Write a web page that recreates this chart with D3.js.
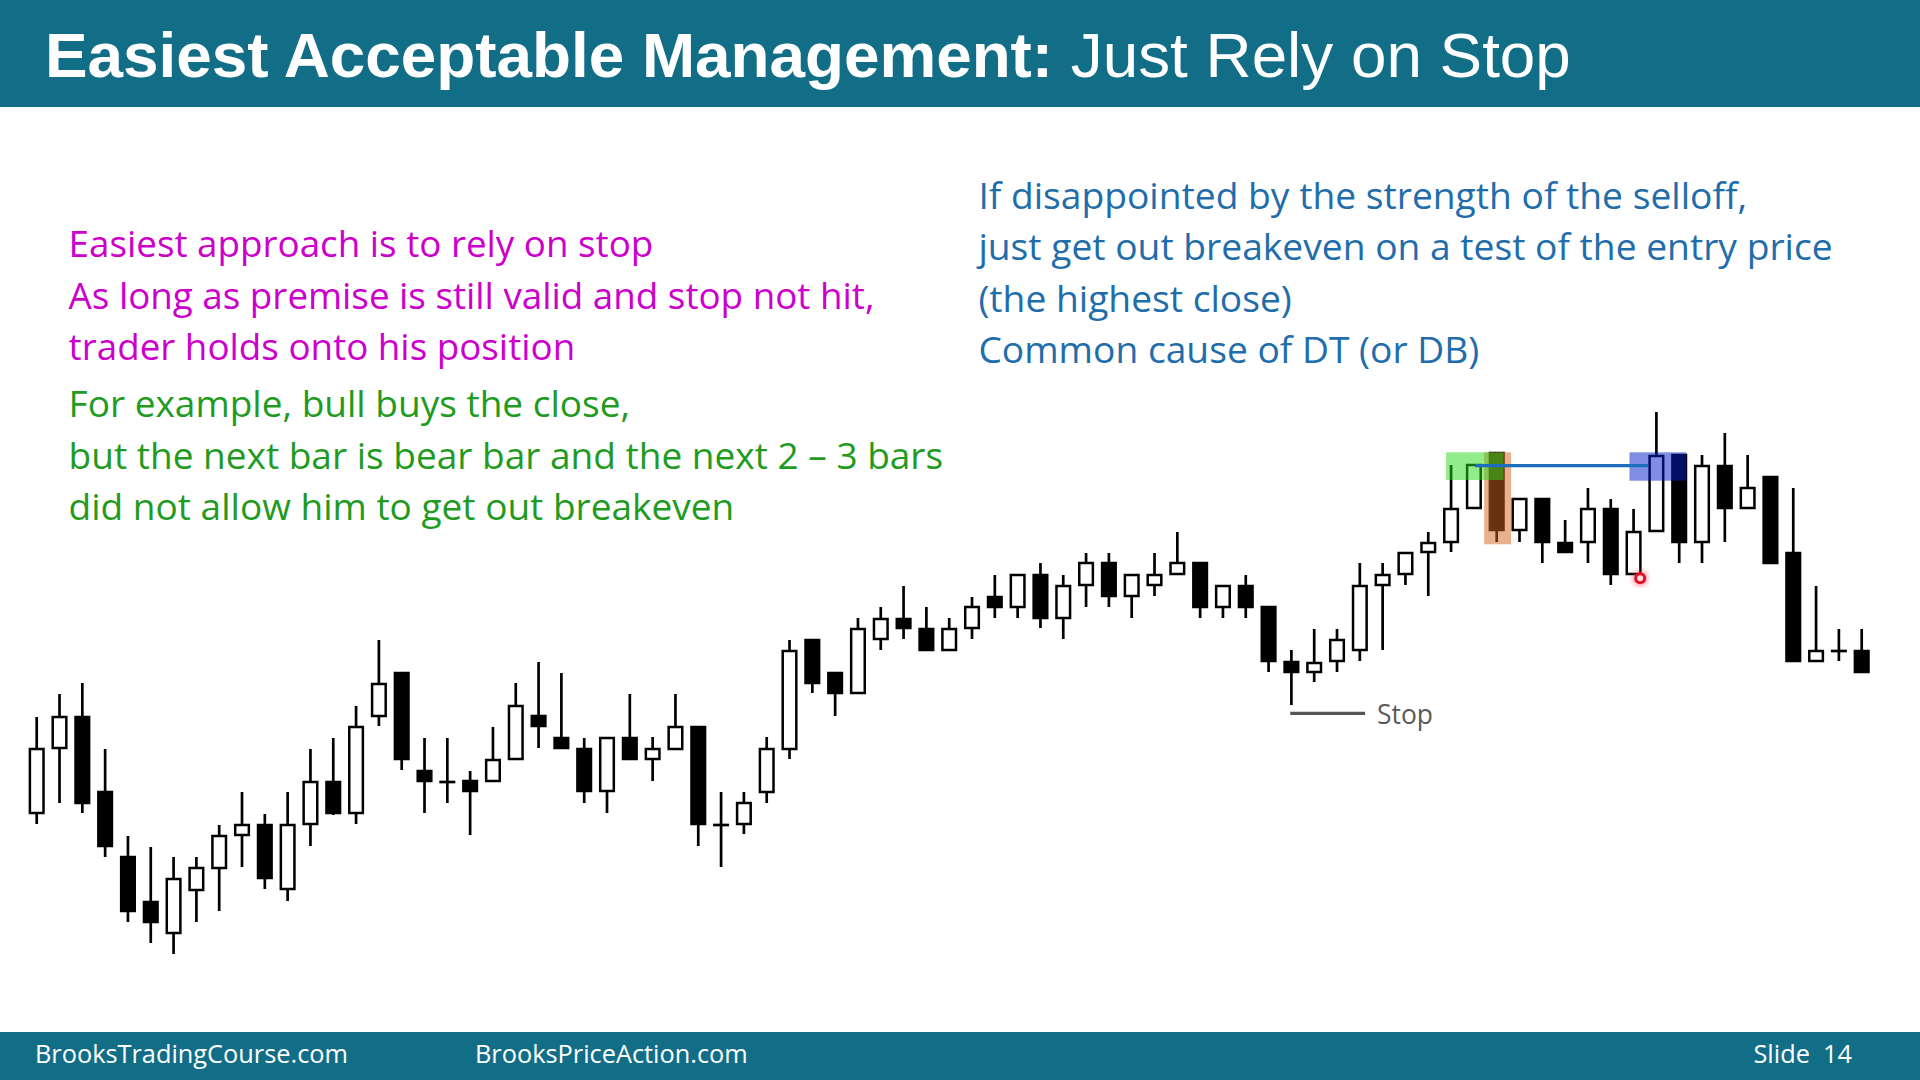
<!DOCTYPE html>
<html>
<head>
<meta charset="utf-8">
<script src="https://cdn.jsdelivr.net/npm/d3@7"></script>
<style>
  html, body { margin: 0; padding: 0; background: #ffffff; overflow: hidden; }
  svg { display: block; }
</style>
</head>
<body>
<svg id="chart" width="1920" height="1080"></svg>
<script>
// ---------------- DATA ----------------
const titleBold = "Easiest Acceptable Management:";
const titleRegular = " Just Rely on Stop";
const magentaLines = [
  "Easiest approach is to rely on stop",
  "As long as premise is still valid and stop not hit,",
  "trader holds onto his position"
];
const greenLines = [
  "For example, bull buys the close,",
  "but the next bar is bear bar and the next 2 \u2013 3 bars",
  "did not allow him to get out breakeven"
];
const blueLines = [
  "If disappointed by the strength of the selloff,",
  "just get out breakeven on a test of the entry price",
  "(the highest close)",
  "Common cause of DT (or DB)"
];
const footerLeft = "BrooksTradingCourse.com";
const footerMid = "BrooksPriceAction.com";
const footerRight = "Slide  14";
const stopLabel = "Stop";

// bar index 1..81 (price units)
const opens  = [187,252,283,208,143,98,67,110,132,165,175,111,176,218,187,284,327,229,218,219,219,241,284,262,251,209,262,241,251,273,175,176,208,251,360,327,307,361,381,371,350,372,403,393,425,382,415,437,404,415,426,437,393,414,393,338,328,339,350,415,426,448,458,492,547,470,501,457,458,491,426,469,545,458,534,492,523,447,339,349,349];
const highs  = [283,306,317,251,164,153,143,143,175,208,186,208,251,262,294,360,327,262,262,229,273,317,338,327,262,262,306,263,306,273,208,208,263,360,360,327,382,393,414,393,382,403,425,425,437,425,447,447,425,447,468,437,414,425,393,350,371,371,437,437,447,468,535,535,547,501,501,480,512,501,491,588,545,545,567,545,523,512,414,371,371];
const lows   = [176,197,187,143,78,57,46,78,89,133,111,99,154,185,176,274,230,187,197,165,219,241,252,252,197,187,241,219,251,154,133,166,197,241,307,284,307,350,361,350,350,361,382,382,372,361,393,393,382,404,426,382,382,382,328,295,318,328,339,350,415,404,448,492,458,458,437,448,437,415,426,469,437,437,458,492,437,339,339,339,328];
const closes = [251,283,197,154,89,78,121,132,164,175,122,175,218,187,273,316,241,219,218,209,240,294,274,252,209,262,241,251,273,176,175,197,251,349,317,307,371,381,372,350,371,393,393,425,382,414,437,404,425,425,437,393,414,393,339,328,337,360,414,425,447,457,491,535,470,501,458,448,491,426,468,544,458,534,492,512,437,339,349,349,328];

// annotations (bar-index and price units)
const greenZone  = [61.78, 64.30, 520, 547.7];
const orangeZone = [63.45, 64.63, 455.7, 547.7];
const blueZone   = [69.82, 72.31, 519.3, 547.7];
const entryLine  = [63.05, 70.64, 534.3];
const stopLine   = [54.95, 58.23, 286.7];
const redDot     = [70.29, 421.7];

// ---------------- DRAW ----------------
const svg = d3.select("#chart");
const W = 1920, H = 1080;
const teal = "#126e87";

const x = d3.scaleLinear().domain([0, opens.length - 1]).range([36.7, 1861.7]);
const y = d3.scaleLinear().domain([0, 600]).range([1000, 400]);

svg.append("rect").attr("width", W).attr("height", H).attr("fill", "#ffffff");

// header
svg.append("rect").attr("x", 0).attr("y", 0).attr("width", W).attr("height", 107).attr("fill", teal);
const title = svg.append("text")
  .attr("x", 45).attr("y", 77)
  .attr("font-family", "'Liberation Sans', Arial, sans-serif")
  .attr("font-size", 64)
  .attr("fill", "#ffffff");
title.append("tspan").attr("font-weight", "bold").text(titleBold);
title.append("tspan").attr("font-weight", "normal").text(titleRegular);

// footer
svg.append("rect").attr("x", 0).attr("y", 1032).attr("width", W).attr("height", 48).attr("fill", teal);
const footFont = "'Open Sans', 'Noto Sans', sans-serif";
const f1 = svg.append("text").attr("x", 35).attr("y", 1063).attr("font-family", footFont)
  .attr("font-size", 23).attr("fill", "#ffffff").text(footerLeft);
const f2 = svg.append("text").attr("x", 475).attr("y", 1063).attr("font-family", footFont)
  .attr("font-size", 23).attr("fill", "#ffffff").text(footerMid);
const f3 = svg.append("text").attr("x", 1852).attr("y", 1063).attr("text-anchor", "end").attr("font-family", footFont)
  .attr("font-size", 23).attr("fill", "#ffffff").attr("xml:space", "preserve").style("white-space", "pre").text(footerRight);

// text blocks
const bodyFont = "'Open Sans', 'Noto Sans', sans-serif";
function block(lines, x0, y0, step, color) {
  const g = svg.append("g").attr("font-family", bodyFont).attr("font-size", 32).attr("fill", color);
  lines.forEach((t, i) => g.append("text").attr("x", x0).attr("y", y0 + i * step).text(t));
  return g;
}
function fitBlock(g, refIndex, target) {
  const node = g.selectAll("text").nodes()[refIndex];
  const w = node.getComputedTextLength();
  g.attr("font-size", 32 * target / w);
}
const gm = block(magentaLines, 68.6, 257, 51.5, "#cc00cc");
const gg = block(greenLines, 68.6, 417, 51.5, "#1f9b1f");
const gb = block(blueLines, 978.4, 209, 51.3, "#1f6dab");
fitBlock(gm, 0, 585);
fitBlock(gg, 1, 875);
fitBlock(gb, 0, 769);

// fit footer
(function(){
  const w = f1.node().getComputedTextLength();
  const fs = 23 * 313 / w;
  [f1, f2, f3].forEach(t => t.attr("font-size", fs));
})();
// fit title
(function(){
  const w = title.node().getComputedTextLength();
  title.attr("font-size", 64 * (1571 - 45) / w);
})();

// candles
const bars = d3.range(opens.length).map(i => ({
  i, o: opens[i], h: highs[i], l: lows[i], c: closes[i]
}));
const bw = 13.6;
const cg = svg.append("g");
cg.selectAll("line.wick").data(bars).join("line")
  .attr("class", "wick")
  .attr("x1", d => x(d.i)).attr("x2", d => x(d.i))
  .attr("y1", d => y(d.h)).attr("y2", d => y(d.l))
  .attr("stroke", "#000").attr("stroke-width", 2.7);
cg.selectAll("rect.body").data(bars.filter(d => d.o !== d.c)).join("rect")
  .attr("class", "body")
  .attr("x", d => x(d.i) - bw / 2)
  .attr("width", bw)
  .attr("y", d => y(Math.max(d.o, d.c)))
  .attr("height", d => Math.abs(y(d.o) - y(d.c)))
  .attr("fill", d => d.c > d.o ? "#ffffff" : "#000000")
  .attr("stroke", "#000").attr("stroke-width", 2.5);
cg.selectAll("line.doji").data(bars.filter(d => d.o === d.c)).join("line")
  .attr("class", "doji")
  .attr("x1", d => x(d.i) - 8).attr("x2", d => x(d.i) + 8)
  .attr("y1", d => y(d.o)).attr("y2", d => y(d.o))
  .attr("stroke", "#000").attr("stroke-width", 2.7);

// highlight zones
function zone(z, color, op) {
  svg.append("rect")
    .attr("x", x(z[0])).attr("width", x(z[1]) - x(z[0]))
    .attr("y", y(z[3])).attr("height", y(z[2]) - y(z[3]))
    .attr("fill", color).attr("fill-opacity", op);
}
zone(orangeZone, "#d2641e", 0.5);
zone(greenZone, "#28d719", 0.5);
zone(blueZone, "#001ec8", 0.5);

// entry line
svg.append("line")
  .attr("x1", x(entryLine[0])).attr("x2", x(entryLine[1]))
  .attr("y1", y(entryLine[2])).attr("y2", y(entryLine[2]))
  .attr("stroke", "#1d6fbd").attr("stroke-width", 3.2);

// stop line + label
svg.append("line")
  .attr("x1", x(stopLine[0])).attr("x2", x(stopLine[1]))
  .attr("y1", y(stopLine[2])).attr("y2", y(stopLine[2]))
  .attr("stroke", "#555555").attr("stroke-width", 3.3);
const st = svg.append("text")
  .attr("x", x(stopLine[1]) + 12).attr("y", y(stopLine[2]) + 11)
  .attr("font-family", bodyFont).attr("font-size", 27)
  .attr("fill", "#5a5a5a").text(stopLabel);
st.attr("font-size", 27 * 56 / st.node().getComputedTextLength());

// red cursor dot
const defs = svg.append("defs");
defs.append("filter").attr("id", "glow").append("feGaussianBlur").attr("stdDeviation", 2.5);
svg.append("circle").attr("cx", x(redDot[0])).attr("cy", y(redDot[1])).attr("r", 8)
  .attr("fill", "#ff3040").attr("opacity", 0.45).attr("filter", "url(#glow)");
svg.append("circle").attr("cx", x(redDot[0])).attr("cy", y(redDot[1])).attr("r", 4.5)
  .attr("fill", "#ffe0e0").attr("stroke", "#e0102a").attr("stroke-width", 3);
</script>
</body>
</html>
